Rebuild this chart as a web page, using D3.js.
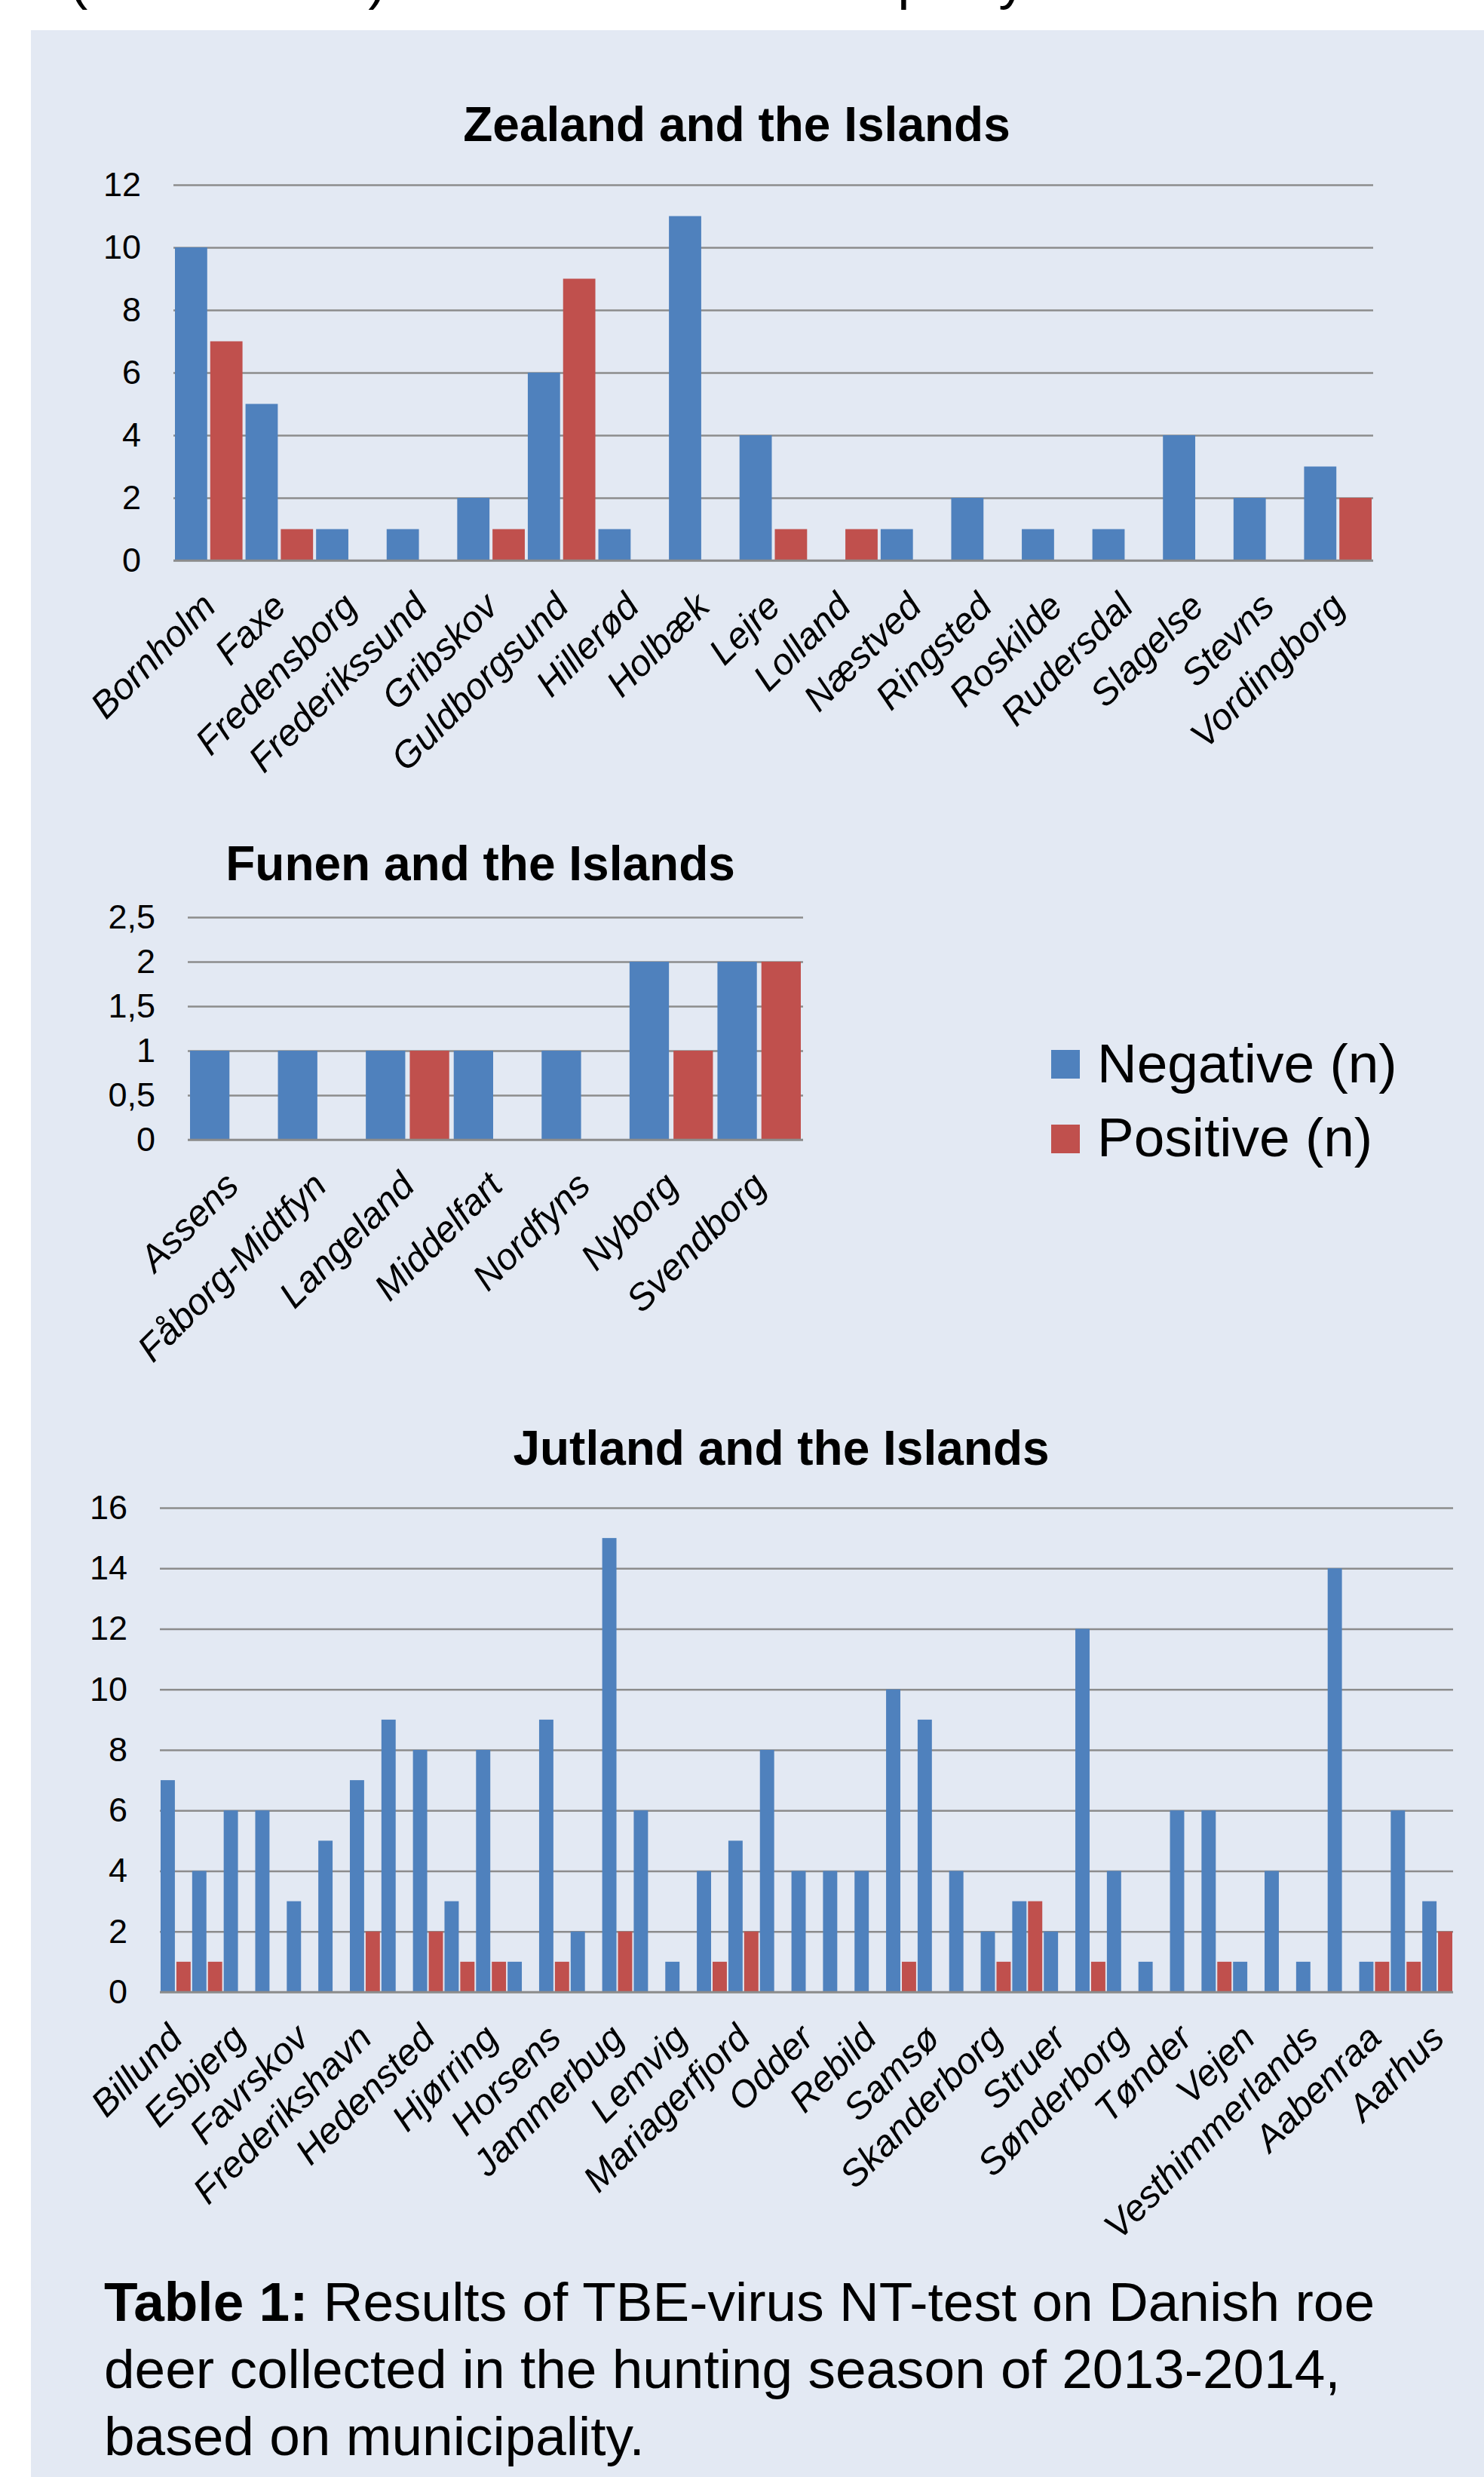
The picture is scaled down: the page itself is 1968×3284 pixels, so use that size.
<!DOCTYPE html>
<html>
<head>
<meta charset="utf-8">
<script src="https://cdn.jsdelivr.net/npm/d3@7"></script>
<style>
  body { margin: 0; background: #fff; }
  svg { display: block; }
</style>
</head>
<body>
<svg id="poster"></svg>
<script>
/* TBE-virus NT-test results per municipality, three grouped bar charts */

// series
const seriesNames = ["Negative (n)", "Positive (n)"];

// Zealand and the Islands
const zealandNames = ["Bornholm", "Faxe", "Fredensborg", "Frederikssund", "Gribskov",
  "Guldborgsund", "Hillerød", "Holbæk", "Lejre", "Lolland", "Næstved", "Ringsted",
  "Roskilde", "Rudersdal", "Slagelse", "Stevns", "Vordingborg"];
const zealandNegative = [10, 5, 1, 1, 2, 6, 1, 11, 4, 0, 1, 2, 1, 1, 4, 2, 3];
const zealandPositive = [7, 1, 0, 0, 1, 9, 0, 0, 1, 1, 0, 0, 0, 0, 0, 0, 2];
const zealandTicks = [0, 2, 4, 6, 8, 10, 12];

// Funen and the Islands
const funenNames = ["Assens", "Fåborg-Midtfyn", "Langeland", "Middelfart", "Nordfyns",
  "Nyborg", "Svendborg"];
const funenNegative = [1, 1, 1, 1, 1, 2, 2];
const funenPositive = [0, 0, 1, 0, 0, 1, 2];
const funenTicks = [0, 0.5, 1, 1.5, 2, 2.5];

// Jutland and the Islands (every other name is shown on the axis)
const jutlandNames = ["Billund", "Brønderslev", "Esbjerg", "Fanø", "Favrskov", "Fredericia",
  "Frederikshavn", "Haderslev", "Hedensted", "Herning", "Hjørring", "Holstebro", "Horsens",
  "Ikast-Brande", "Jammerbug", "Kolding", "Lemvig", "Læsø", "Mariagerfjord", "Norddjurs",
  "Odder", "Randers", "Rebild", "Ringkøbing-Skjern", "Samsø", "Silkeborg", "Skanderborg",
  "Skive", "Struer", "Syddjurs", "Sønderborg", "Thisted", "Tønder", "Varde", "Vejen", "Vejle",
  "Vesthimmerlands", "Viborg", "Aabenraa", "Aalborg", "Aarhus"];
const jutlandNegative = [7, 4, 6, 6, 3, 5, 7, 9, 8, 3, 8, 1, 9, 2, 15, 6, 1, 4, 5, 8, 4, 4, 4,
  10, 9, 4, 2, 3, 2, 12, 4, 1, 6, 6, 1, 4, 1, 14, 1, 6, 3];
const jutlandPositive = [1, 1, 0, 0, 0, 0, 2, 0, 2, 1, 1, 0, 1, 0, 2, 0, 0, 1, 2, 0, 0, 0, 0,
  1, 0, 0, 1, 3, 0, 1, 0, 0, 0, 1, 0, 0, 0, 0, 1, 1, 2];
const jutlandTicks = [0, 2, 4, 6, 8, 10, 12, 14, 16];

const FONT = "'Liberation Sans', Arial, Helvetica, sans-serif";
const COLORS = ["#4F81BD", "#C0504D"];
const GRID = "#8c8c8c";
// danish style decimals: 2,5
const commaFormat = d3
  .formatLocale({ decimal: ",", thousands: ".", grouping: [3], currency: ["", ""] })
  .format("~g");

const width = 1968;
const height = 3284;
const svg = d3.select("#poster").attr("width", width).attr("height", height)
  .attr("viewBox", [0, 0, width, height]);

// poster panel
svg.append("rect").attr("x", 41).attr("y", 40).attr("width", width - 41)
  .attr("height", height - 40).attr("fill", "#E3E9F3");

// the line above the panel is cut by the page edge, only descenders show
svg.append("text").attr("x", 92).attr("y", -2).attr("font-family", FONT)
  .attr("font-size", 73).text("(see Table 1) in the Danish municipality");

/* draw one grouped bar chart (grid, bars, labels, title) */
function drawPanel(opts) {
  const rows = opts.names.map((name, i) => ({
    name,
    values: [opts.negative[i], opts.positive[i]],
  }));
  const x0 = d3.scaleBand().domain(opts.names).range([opts.left, opts.right]);
  const x1 = d3.scaleBand().domain([0, 1]).range([0, x0.bandwidth()]);
  const y = d3.scaleLinear().domain([0, opts.ticks[opts.ticks.length - 1]])
    .range([opts.bottom, opts.top]);

  const g = svg.append("g").attr("class", "panel");

  // gridlines + y tick labels
  const yAxis = g.append("g")
    .attr("transform", `translate(${opts.left},0)`)
    .call(d3.axisLeft(y).tickValues(opts.ticks)
      .tickSizeInner(-(opts.right - opts.left)).tickSizeOuter(0)
      .tickPadding(43).tickFormat(opts.format || d3.format("d")))
    // axis() writes its own font, so set ours after the call
    .attr("font-family", FONT)
    .attr("font-size", 45);
  yAxis.select(".domain").remove();
  yAxis.selectAll("line").attr("stroke", GRID).attr("stroke-width", 2.5);
  yAxis.selectAll("text").attr("fill", "#000");

  // bars
  g.append("g").selectAll("g")
    .data(rows)
    .join("g")
    .attr("transform", (d) => `translate(${x0(d.name)},0)`)
    .selectAll("rect")
    .data((d) => d.values.map((v, k) => ({ k, v })))
    .join("rect")
    .attr("x", (d) => x1(d.k) + opts.inset)
    .attr("width", x1.bandwidth() - 2 * opts.inset)
    .attr("y", (d) => y(d.v))
    .attr("height", (d) => y(0) - y(d.v))
    .attr("fill", (d) => COLORS[d.k]);

  // base line over the bars
  g.append("line")
    .attr("x1", opts.left).attr("x2", opts.right)
    .attr("y1", y(0)).attr("y2", y(0))
    .attr("stroke", GRID).attr("stroke-width", 2.5);

  // rotated category labels
  const step = opts.labelStep || 1;
  const xAxis = g.append("g")
    .attr("transform", `translate(0,${opts.bottom})`)
    .call(d3.axisBottom(x0).tickSize(0)
      .tickValues(opts.names.filter((d, i) => i % step === 0)))
    .attr("font-family", FONT)
    .attr("font-size", 49);
  xAxis.select(".domain").remove();
  xAxis.selectAll("text")
    .attr("fill", "#000")
    .attr("x", 0).attr("y", 0).attr("dy", "0.75em")
    .attr("text-anchor", "end")
    .attr("font-style", "italic")
    .attr("transform", "translate(-14,38) rotate(-45)");

  // title
  g.append("text")
    .attr("x", opts.titleX).attr("y", opts.titleY)
    .attr("text-anchor", "middle")
    .attr("font-family", FONT).attr("font-size", 64).attr("font-weight", "bold")
    .text(opts.title);
}

drawPanel({
  title: "Zealand and the Islands", titleX: 977, titleY: 187,
  names: zealandNames, negative: zealandNegative, positive: zealandPositive,
  ticks: zealandTicks, left: 230, right: 1821, top: 245, bottom: 743, inset: 2,
});

drawPanel({
  title: "Funen and the Islands", titleX: 637, titleY: 1167,
  names: funenNames, negative: funenNegative, positive: funenPositive,
  ticks: funenTicks, format: commaFormat,
  left: 249, right: 1065, top: 1216, bottom: 1511, inset: 3,
});

drawPanel({
  title: "Jutland and the Islands", titleX: 1036, titleY: 1942,
  names: jutlandNames, negative: jutlandNegative, positive: jutlandPositive,
  ticks: jutlandTicks, left: 212, right: 1927, top: 1999, bottom: 2641, inset: 1,
  labelStep: 2,
});

// legend
const legend = svg.append("g").attr("font-family", FONT).attr("font-size", 73);
legend.selectAll("rect")
  .data(seriesNames)
  .join("rect")
  .attr("x", 1394).attr("y", (d, i) => 1392 + i * 99)
  .attr("width", 38).attr("height", 38)
  .attr("fill", (d, i) => COLORS[i]);
legend.selectAll("text")
  .data(seriesNames)
  .join("text")
  .attr("x", 1455).attr("y", (d, i) => 1435 + i * 98)
  .text((d) => d);

// caption
const captionLines = [
  ["Table 1:", " Results of TBE-virus NT-test on Danish roe"],
  ["", "deer collected in the hunting season of 2013-2014,"],
  ["", "based on municipality."],
];
const caption = svg.append("g").attr("font-family", FONT).attr("font-size", 73);
captionLines.forEach(([bold, rest], i) => {
  const t = caption.append("text").attr("x", 138).attr("y", 3077 + i * 89);
  if (bold) t.append("tspan").attr("font-weight", "bold").text(bold);
  t.append("tspan").text(rest);
});
</script>
</body>
</html>
